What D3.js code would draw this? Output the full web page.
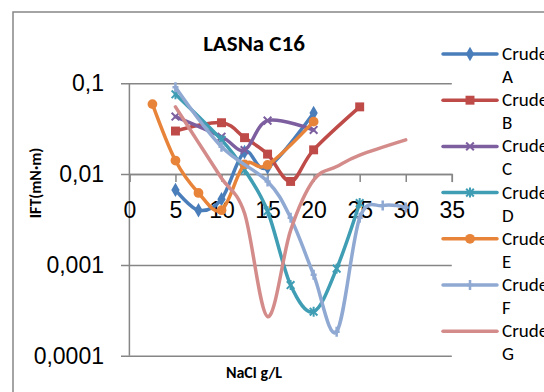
<!DOCTYPE html>
<html>
<head>
<meta charset="utf-8">
<script src="https://cdn.jsdelivr.net/npm/d3@7"></script>
<style>
  body { margin: 0; background: #fff; }
  svg { display: block; font-family: Carlito, Calibri, Lato, sans-serif; }
</style>
</head>
<body>
<div id="chart"></div>
<script>
const width = 544;
const height = 392;

// data
const seriesNames = ["Crude A", "Crude B", "Crude C", "Crude D", "Crude E", "Crude F", "Crude G"];
const xTicks = [0, 5, 10, 15, 20, 25, 30, 35];
const yTicks = [0.0001, 0.001, 0.01, 0.1];
const yTickLabels = ["0,0001", "0,001", "0,01", "0,1"];

const xA = [5, 7.5, 10, 12.5, 15, 20];
const yA = [0.0067, 0.0040, 0.0053, 0.0175, 0.0118, 0.047];
const xB = [5, 10, 12.5, 15, 17.5, 20, 25];
const yB = [0.0298, 0.0368, 0.0252, 0.0166, 0.0083, 0.0185, 0.055];
const xC = [5, 10, 12.5, 15, 20];
const yC = [0.043, 0.0258, 0.0184, 0.0388, 0.0306];
const xD = [5, 10, 12.5, 15, 17.5, 20, 22.5, 25];
const yD = [0.0757, 0.0238, 0.0111, 0.0039, 0.0006, 0.000305, 0.00091, 0.0048];
const xE = [2.5, 5, 7.5, 10, 12.5, 15, 20];
const yE = [0.059, 0.0141, 0.0062, 0.0040, 0.0128, 0.0126, 0.0378];
const xF = [5, 10, 15, 17.5, 20, 22.5, 25, 27.5, 30];
const yF = [0.0904, 0.020, 0.0083, 0.0033, 0.00078, 0.000184, 0.0033, 0.0045, 0.0043];
const xG = [5, 7.5, 10, 12.5, 15, 17.5, 20, 22.5, 25, 30];
const yG = [0.055, 0.0222, 0.0090, 0.0037, 0.00027, 0.0024, 0.0086, 0.0121, 0.0162, 0.0238];

const colors = ["#4A7EBB", "#BE4B48", "#7D5FA0", "#3F9DB4", "#E8843A", "#8FA9D3", "#D48C8B"];
const markers = ["diamond", "square", "times", "star", "circle", "plus", "none"];

const series = seriesNames.map((name, i) => {
  const xs = [xA, xB, xC, xD, xE, xF, xG][i];
  const ys = [yA, yB, yC, yD, yE, yF, yG][i];
  return { name, color: colors[i], marker: markers[i], points: xs.map((x, j) => ({ x, y: ys[j] })) };
});

const x = d3.scaleLinear().domain([0, 35]).range([129.4, 451.8]);
const y = d3.scaleLog().domain([0.0001, 0.1]).range([355.7, 83.3]);

const svg = d3.select("#chart").append("svg")
    .attr("width", width)
    .attr("height", height);

const axisColor = "#868686";

// chart area border (runs off the right / bottom edge)
svg.append("rect")
    .attr("x", 13).attr("y", 12)
    .attr("width", 600).attr("height", 420)
    .attr("fill", "none")
    .attr("stroke", axisColor)
    .attr("stroke-width", 1.5);

// title
svg.append("text")
    .attr("x", 254).attr("y", 51)
    .attr("text-anchor", "middle")
    .style("font-size", "23px")
    .style("font-weight", "bold")
    .text("LASNa C16");

// y gridlines + labels
const yAxis = svg.append("g")
    .attr("transform", "translate(121,0)")
    .call(d3.axisLeft(y)
      .tickValues(yTicks)
      .tickFormat((d, i) => yTickLabels[i])
      .tickSize(-(451.8 - 121))
      .tickPadding(17));
yAxis.select(".domain").remove();
yAxis.selectAll("line").attr("stroke", axisColor).attr("stroke-width", 1.5);
yAxis.selectAll("text").style("font-size", "23px").attr("fill", "#000").attr("font-family", null);

// vertical axis line
svg.append("line")
    .attr("x1", x(0)).attr("x2", x(0))
    .attr("y1", y(0.1)).attr("y2", y(0.0001))
    .attr("stroke", axisColor).attr("stroke-width", 1.5);

// x axis crosses at 0,01
const xAxis = svg.append("g")
    .attr("transform", `translate(0,${y(0.01)})`)
    .call(d3.axisBottom(x)
      .tickValues(xTicks)
      .tickSize(8)
      .tickPadding(20));
xAxis.selectAll("line, path").attr("stroke", axisColor).attr("stroke-width", 1.5);
xAxis.selectAll("text").style("font-size", "23px").attr("fill", "#000").attr("font-family", null);

// axis titles
svg.append("text")
    .attr("transform", "translate(41,183) rotate(-90)")
    .attr("text-anchor", "middle")
    .style("font-size", "16px")
    .style("font-weight", "bold")
    .text("IFT(mN·m)");

svg.append("text")
    .attr("x", 254).attr("y", 378)
    .attr("text-anchor", "middle")
    .style("font-size", "16px")
    .style("font-weight", "bold")
    .text("NaCl g/L");

// smoothed lines like Excel
const line = d3.line()
    .x(d => x(d.x))
    .y(d => y(d.y))
    .curve(d3.curveCatmullRom.alpha(0));

function drawMarker(g, type, color) {
  if (type === "diamond") {
    g.append("path").attr("d", d3.symbol(d3.symbolDiamond, 60)()).attr("fill", color);
  } else if (type === "square") {
    g.append("path").attr("d", d3.symbol(d3.symbolSquare, 80)()).attr("fill", color);
  } else if (type === "circle") {
    g.append("path").attr("d", d3.symbol(d3.symbolCircle, 75)()).attr("fill", color);
  } else if (type === "times") {
    g.append("path").attr("d", d3.symbol(d3.symbolTimes, 40)())
      .attr("fill", "none").attr("stroke", color).attr("stroke-width", 2);
  } else if (type === "star") {
    g.append("path").attr("d", d3.symbol(d3.symbolTimes, 40)())
      .attr("fill", "none").attr("stroke", color).attr("stroke-width", 2);
    g.append("path").attr("d", "M0,-5V5")
      .attr("stroke", color).attr("stroke-width", 2);
  } else if (type === "plus") {
    g.append("path").attr("d", "M0,-5V5M-3,0H3")
      .attr("stroke", color).attr("stroke-width", 2.5);
  }
}

series.forEach(s => {
  svg.append("path")
      .datum(s.points)
      .attr("fill", "none")
      .attr("stroke", s.color)
      .attr("stroke-width", 3.5)
      .attr("stroke-linejoin", "round")
      .attr("stroke-linecap", "round")
      .attr("d", line);

  svg.append("g").selectAll("g")
      .data(s.points)
      .join("g")
      .attr("transform", d => `translate(${x(d.x)},${y(d.y)})`)
      .each(function() { drawMarker(d3.select(this), s.marker, s.color); });
});

// legend (text runs off the right edge, as in the original)
const legend = svg.append("g");
series.forEach((s, i) => {
  const ly = 54 + i * 46.2;
  legend.append("line")
      .attr("x1", 443).attr("x2", 497)
      .attr("y1", ly).attr("y2", ly)
      .attr("stroke", s.color)
      .attr("stroke-width", 3.5)
      .attr("stroke-linecap", "round");
  const m = legend.append("g").attr("transform", `translate(470,${ly})`);
  drawMarker(m, s.marker, s.color);
  const parts = s.name.split(" ");
  legend.append("text")
      .attr("x", 502).attr("y", ly + 6)
      .style("font-size", "19px")
      .selectAll("tspan")
      .data(parts)
      .join("tspan")
      .attr("x", 502)
      .attr("dy", (d, j) => j === 0 ? 0 : 23)
      .text(d => d);
});
</script>
</body>
</html>
